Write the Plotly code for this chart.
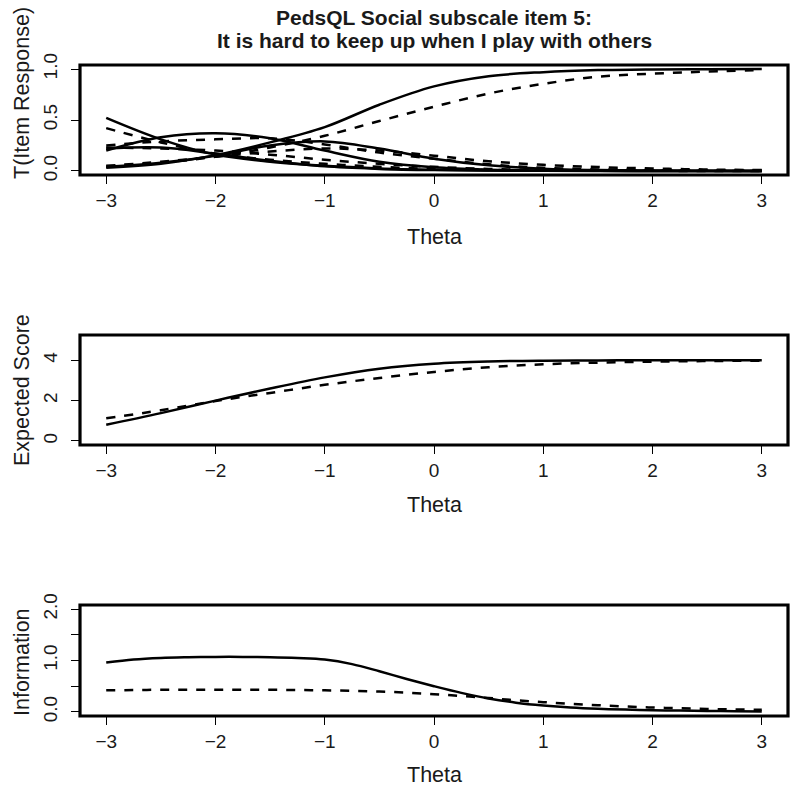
import plotly.graph_objects as go

# ---------------- data ----------------
theta = [-3, -2.5, -2, -1.5, -1, -0.5, 0, 0.5, 1, 1.5, 2, 2.5, 3]

# category response curves, group 1 (solid)
s_cat0 = [0.52, 0.31, 0.16, 0.09, 0.05, 0.025, 0.012, 0.005, 0.002, 0.001, 0, 0, 0]
s_cat1 = [0.22, 0.23, 0.17, 0.10, 0.045, 0.02, 0.008, 0.003, 0.001, 0, 0, 0, 0]
s_cat2 = [0.20, 0.33, 0.37, 0.32, 0.20, 0.09, 0.035, 0.012, 0.004, 0.001, 0, 0, 0]
s_cat3 = [0.04, 0.08, 0.15, 0.25, 0.29, 0.22, 0.12, 0.055, 0.022, 0.008, 0.003, 0.001, 0]
s_cat4 = [0.03, 0.07, 0.155, 0.28, 0.43, 0.65, 0.83, 0.93, 0.97, 0.99, 0.997, 0.999, 1.0]

# category response curves, group 2 (dashed)
d_cat0 = [0.42, 0.28, 0.17, 0.11, 0.07, 0.04, 0.02, 0.01, 0.005, 0.002, 0.001, 0, 0]
d_cat1 = [0.23, 0.22, 0.20, 0.16, 0.11, 0.07, 0.04, 0.02, 0.01, 0.005, 0.003, 0.002, 0.001]
d_cat2 = [0.25, 0.29, 0.31, 0.32, 0.26, 0.18, 0.12, 0.065, 0.03, 0.015, 0.008, 0.004, 0.002]
d_cat3 = [0.05, 0.09, 0.14, 0.19, 0.22, 0.20, 0.15, 0.095, 0.06, 0.038, 0.024, 0.014, 0.008]
d_cat4 = [0.04, 0.08, 0.14, 0.23, 0.345, 0.49, 0.63, 0.76, 0.855, 0.925, 0.955, 0.975, 0.99]

# expected score
s_expected = [0.80, 1.38, 2.00, 2.60, 3.15, 3.58, 3.83, 3.94, 3.98, 3.99, 4.0, 4.0, 4.0]
d_expected = [1.12, 1.52, 1.98, 2.38, 2.78, 3.12, 3.42, 3.65, 3.80, 3.88, 3.93, 3.96, 3.98]

# information (finer grid)
theta_info = [-3, -2.75, -2.5, -2.25, -2, -1.75, -1.5, -1.25, -1, -0.75, -0.5, -0.25, 0,
              0.25, 0.5, 0.75, 1, 1.25, 1.5, 1.75, 2, 2.25, 2.5, 2.75, 3]
s_info = [0.96, 1.02, 1.05, 1.063, 1.07, 1.07, 1.065, 1.05, 1.02, 0.93, 0.79, 0.64, 0.50,
          0.37, 0.26, 0.18, 0.125, 0.085, 0.06, 0.045, 0.033, 0.025, 0.019, 0.014, 0.01]
d_info = [0.42, 0.425, 0.43, 0.43, 0.43, 0.43, 0.43, 0.425, 0.42, 0.41, 0.395, 0.375, 0.345,
          0.31, 0.27, 0.225, 0.19, 0.155, 0.13, 0.105, 0.085, 0.07, 0.058, 0.047, 0.04]

title_lines = ["PedsQL Social subscale item 5:", "It is hard to keep up when I play with others"]
x_title = "Theta"
y_titles = ["T(Item Response)", "Expected Score", "Information"]
x_ticks = [-3, -2, -1, 0, 1, 2, 3]
x_ticktext = ["\u22123", "\u22122", "\u22121", "0", "1", "2", "3"]
y1_ticks = [0, 0.5, 1.0]
y1_ticktext = ["0.0", "0.5", "1.0"]
y2_ticks = [0, 2, 4]
y2_ticktext = ["0", "2", "4"]
y3_ticks = [0, 0.5, 1.0, 1.5, 2.0]
y3_ticktext = ["0.0", "", "1.0", "", "2.0"]

# ---------------- figure ----------------
W, H = 800, 792
PLOT_L, PLOT_R, PLOT_T, PLOT_B = 80, 788, 65, 716   # target pixels
ML, MR = PLOT_L, W - PLOT_R
MT, MB = PLOT_T, H - PLOT_B
PW, PH = W - ML - MR, H - MT - MB
FONT = "Liberation Sans, Arial, Helvetica, sans-serif"
FS_TICK = 19
FS_LAB = 21.5
TXT = "#1a1a1a"


def py(pix):  # pixel y -> paper y
    return (PLOT_B - pix) / PH


def px(pix):
    return (pix - PLOT_L) / PW


fig = go.Figure()
solid = dict(color="black", width=2.5, shape="spline")
dashed = dict(color="black", width=2.5, dash="dash", shape="spline")

for ys in [s_cat0, s_cat1, s_cat2, s_cat3, s_cat4]:
    fig.add_trace(go.Scatter(x=theta, y=ys, mode="lines", line=solid, xaxis="x", yaxis="y"))
for ys in [d_cat0, d_cat1, d_cat2, d_cat3, d_cat4]:
    fig.add_trace(go.Scatter(x=theta, y=ys, mode="lines", line=dashed, xaxis="x", yaxis="y"))

fig.add_trace(go.Scatter(x=theta, y=s_expected, mode="lines", line=solid, xaxis="x2", yaxis="y2"))
fig.add_trace(go.Scatter(x=theta, y=d_expected, mode="lines", line=dashed, xaxis="x2", yaxis="y2"))

fig.add_trace(go.Scatter(x=theta_info, y=s_info, mode="lines", line=solid, xaxis="x3", yaxis="y3"))
fig.add_trace(go.Scatter(x=theta_info, y=d_info, mode="lines", line=dashed, xaxis="x3", yaxis="y3"))

panels = [  # (top px, bottom px)
    (65, 175),
    (335, 445),
    (605, 716),
]

xcommon = dict(range=[-3.24, 3.24], tickvals=x_ticks, ticktext=x_ticktext, ticks="outside",
               ticklen=8, tickwidth=1.3, tickcolor="black", showgrid=False, zeroline=False,
               showline=False, automargin=False,
               tickfont=dict(family=FONT, size=FS_TICK, color=TXT), ticklabelstandoff=0)
ycommon = dict(ticks="outside", ticklen=8, tickwidth=1.3, tickcolor="black", showgrid=False,
               zeroline=False, showline=False, tickangle=-90, automargin=False,
               tickfont=dict(family=FONT, size=FS_TICK, color=TXT), ticklabelstandoff=6)

layout = dict(
    template="none",
    width=W, height=H, plot_bgcolor="white", paper_bgcolor="white", showlegend=False,
    margin=dict(l=ML, r=MR, t=MT, b=MB, autoexpand=False),
)
yspecs = [
    dict(range=[-0.04, 1.04], tickvals=y1_ticks, ticktext=y1_ticktext),
    dict(range=[-0.2, 5.25], tickvals=y2_ticks, ticktext=y2_ticktext),
    dict(range=[-0.08, 2.08], tickvals=y3_ticks, ticktext=y3_ticktext),
]
for i, ((top, bot), ys) in enumerate(zip(panels, yspecs)):
    sfx = "" if i == 0 else str(i + 1)
    layout["xaxis" + sfx] = dict(xcommon, anchor="y" + sfx)
    layout["yaxis" + sfx] = dict(ycommon, **ys, domain=[py(bot), py(top)], anchor="x" + sfx)
fig.update_layout(**layout)

# plot boxes
for i in range(3):
    sfx = "" if i == 0 else str(i + 1)
    fig.add_shape(type="rect", xref=f"x{sfx} domain", yref=f"y{sfx} domain",
                  x0=0, x1=1, y0=0, y1=1, line=dict(color="black", width=3.2))

# axis titles
xt_pos = [237, 505, 775]
yt_pos = [93, 390, 662]
for i in range(3):
    fig.add_annotation(text=x_title, x=px(434), y=py(xt_pos[i]), xref="paper", yref="paper",
                       showarrow=False, font=dict(family=FONT, size=FS_LAB, color=TXT),
                       xanchor="center", yanchor="middle")
    fig.add_annotation(text=y_titles[i], x=px(22), y=py(yt_pos[i]), xref="paper", yref="paper",
                       showarrow=False, textangle=-90, font=dict(family=FONT, size=FS_LAB, color=TXT),
                       xanchor="center", yanchor="middle")

# main title
fig.add_annotation(text="<b>" + title_lines[0] + "</b>", x=px(434), y=py(17), xref="paper",
                   yref="paper", showarrow=False, font=dict(family=FONT, size=21, color=TXT),
                   xanchor="center", yanchor="middle")
fig.add_annotation(text="<b>" + title_lines[1] + "</b>", x=px(434), y=py(41), xref="paper",
                   yref="paper", showarrow=False, font=dict(family=FONT, size=21, color=TXT),
                   xanchor="center", yanchor="middle")

# remove the browser's default 8px page margin so the figure fills the window exactly
fig.write_html("out.html", config={"displayModeBar": False},
               post_script="document.body.style.margin='0px';")
